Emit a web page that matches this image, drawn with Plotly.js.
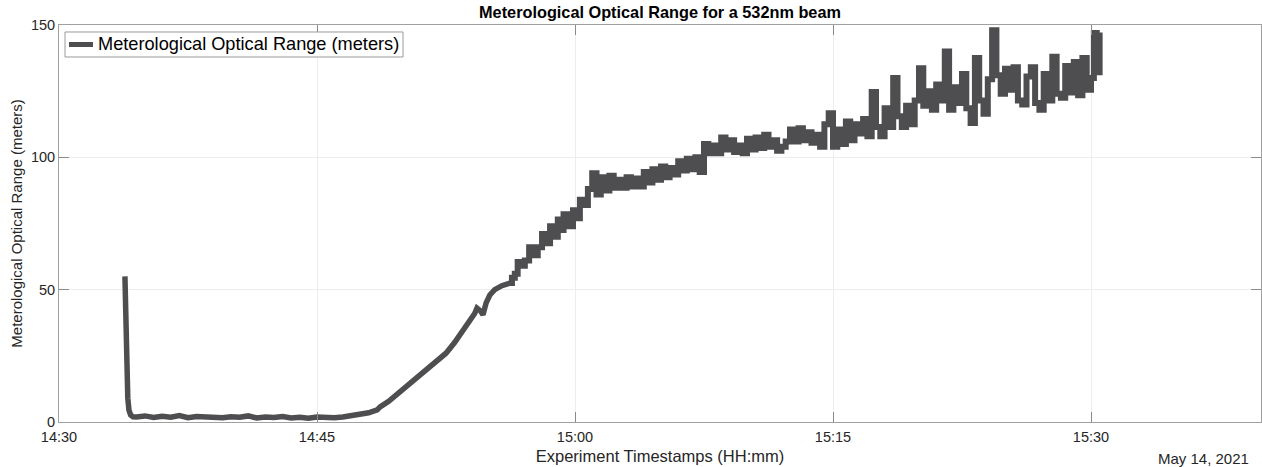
<!DOCTYPE html>
<html>
<head>
<meta charset="utf-8">
<script src="https://cdn.plot.ly/plotly-3.0.1.min.js"></script>
<style>html,body{margin:0;padding:0;background:#fff;}#chart{width:1262px;height:467px;}</style>
</head>
<body>
<div id="chart"></div>
<script>
const dateStr = '2021-05-14';
const seriesName = 'Meterological Optical Range (meters)';
const chartTitle = 'Meterological Optical Range for a 532nm beam';
const xTitle = 'Experiment Timestamps (HH:mm)';
const yTitle = 'Meterological Optical Range (meters)';
const dateLabel = 'May 14, 2021';
const yTickVals = [0, 50, 100, 150];

// initial drop
const timesDrop = ['14:33:50','14:33:52','14:33:54','14:33:57','14:34:00','14:34:04','14:34:10','14:34:18'];
const valuesDrop = [55, 42, 30, 17, 9, 4.5, 2.6, 2.0];

// flat region
const timesFlat = ['14:34:30','14:35:00','14:35:30','14:36:00','14:36:30','14:37:00','14:37:30','14:38:00','14:38:30','14:39:00','14:39:30','14:40:00','14:40:30','14:41:00','14:41:30','14:42:00','14:42:30','14:43:00','14:43:30','14:44:00','14:44:30','14:45:00','14:45:30'];
const valuesFlat = [1.9, 2.3, 1.7, 2.2, 1.8, 2.4, 1.6, 2.1, 1.9, 2.2, 1.6, 2.0, 1.8, 2.3, 1.5, 1.9, 1.7, 2.1, 1.5, 1.8, 1.4, 1.9, 1.6];

// rise
const timesRise = ['14:46:00','14:46:30','14:47:00','14:47:30','14:48:00','14:48:30','14:48:40','14:49:10','14:49:40','14:50:10','14:50:35','14:51:00','14:51:30','14:52:00','14:52:30','14:53:00','14:53:30','14:53:54','14:54:10','14:54:18','14:54:30','14:54:39','14:54:50','14:55:03','14:55:20','14:55:45','14:56:13'];
const valuesRise = [1.6, 1.9, 2.3, 2.9, 3.5, 4.6, 5.7, 7.8, 10.5, 13, 15, 17.5, 20, 23, 26, 30, 34.5, 38.5, 41, 43, 42, 40.5, 45, 48, 50, 51.5, 52.5];

// jittery late rise and noisy plateau
const timesNoisy = [
'14:56:20','14:56:30','14:56:40','14:56:50','14:57:05','14:57:20','14:57:33','14:57:50','14:58:05','14:58:15','14:58:33','14:58:45',
'14:59:00','14:59:07','14:59:20','14:59:35','14:59:53','15:00:05','15:00:17','15:00:30','15:00:45',
'15:01:00','15:01:15','15:01:30','15:01:45','15:02:00','15:02:15','15:02:30','15:02:45',
'15:03:00','15:03:15','15:03:30','15:03:45','15:04:00','15:04:15','15:04:30','15:04:45',
'15:05:00','15:05:15','15:05:30','15:05:45','15:06:00','15:06:15','15:06:30','15:06:45',
'15:07:00','15:07:15','15:07:30','15:07:45','15:08:00','15:08:15','15:08:30','15:08:45',
'15:09:00','15:09:15','15:09:30','15:09:45','15:10:00','15:10:15','15:10:30','15:10:45',
'15:11:00','15:11:15','15:11:30','15:11:45','15:12:00','15:12:15','15:12:30','15:12:45',
'15:13:00','15:13:15','15:13:30','15:13:45','15:14:00','15:14:15','15:14:30','15:14:45',
'15:15:00','15:15:15','15:15:30','15:15:45','15:16:00','15:16:15','15:16:30','15:16:45',
'15:17:00','15:17:15','15:17:30','15:17:45','15:18:00','15:18:15','15:18:30','15:18:45',
'15:19:00','15:19:15','15:19:30','15:19:45','15:20:00','15:20:15','15:20:30','15:20:45',
'15:21:00','15:21:15','15:21:30','15:21:45','15:22:00','15:22:15','15:22:30','15:22:45',
'15:23:00','15:23:15','15:23:30','15:23:45','15:24:00','15:24:15','15:24:30','15:24:45',
'15:25:00','15:25:15','15:25:30','15:25:45','15:26:00','15:26:15','15:26:30','15:26:45',
'15:27:00','15:27:15','15:27:30','15:27:45','15:28:00','15:28:15','15:28:30','15:28:45',
'15:29:00','15:29:15','15:29:30','15:29:45','15:30:00','15:30:10','15:30:20','15:30:30'];
const valuesNoisy = [
54.5, 56, 60.5, 59, 61, 66, 63, 66, 71, 67.5, 74, 70,
76.5, 72.5, 78.5, 74, 80, 77, 84, 82, 88,
94, 86, 92.5, 87.5, 93, 88.5, 91.5, 88.5,
92.5, 89, 92, 89, 94.5, 90.5, 95.5, 91.5,
96.5, 92.5, 96, 93.5, 98.5, 95, 99.5, 95.5,
100, 94.5, 105, 101.5, 104.5, 101.5, 107.5, 103,
106.5, 102, 104.5, 101.5, 107, 103, 107.5, 103.5,
108.5, 104, 106.5, 102.5, 104, 106, 110.5, 106,
111, 106.5, 109.5, 105.5, 108.5, 104, 112.5, 116.7,
104, 110.5, 105, 113.5, 106.5, 112.5, 109, 114.5,
108, 124.7, 111.5, 108, 118.5, 111.5, 130, 115.5,
111.5, 119.5, 112.5, 121.5, 133.7, 119.5, 125, 118,
127.5, 121.5, 140, 118, 126.5, 120.5, 131.5, 118.5,
113, 137.5, 121.5, 116.5, 129.5, 148, 131, 124,
133.5, 125.5, 134, 121.5, 120, 130.5, 134, 120.5,
118, 131.5, 121.5, 138, 124, 122.5, 134.5, 124.5,
136, 123.5, 137.5, 125.5, 130, 147, 146, 131];

const withDate = t => dateStr + ' ' + t;
const timesSmooth = [].concat(timesDrop, timesFlat, timesRise).map(withDate);
const valuesSmooth = [].concat(valuesDrop, valuesFlat, valuesRise);
// the jittery part continues from the last smooth reading so the line is unbroken
const timesJitter = [timesRise[timesRise.length - 1]].concat(timesNoisy).map(withDate);
const valuesJitter = [valuesRise[valuesRise.length - 1]].concat(valuesNoisy);

const font = 'Liberation Sans, Arial, Helvetica, sans-serif';
const lineColor = '#4e4d50';
const textColor = '#262626';

const traceSmooth = {
  x: timesSmooth, y: valuesSmooth, type: 'scatter', mode: 'lines', name: seriesName,
  line: {color: lineColor, width: 5.5}, showlegend: false
};
const traceNoisy = {
  x: timesJitter, y: valuesJitter, type: 'scatter', mode: 'lines', name: seriesName,
  line: {color: lineColor, width: 6, shape: 'hv'}, showlegend: false
};

// legend box geometry (paper coords)
const lgX0 = 0.005, lgX1 = 0.2862, lgY0 = 0.9194, lgY1 = 0.9824, lgYm = 0.9509;

const layout = {
  width: 1262, height: 467,
  margin: {l: 59, r: 1, t: 25, b: 45},
  paper_bgcolor: '#fff', plot_bgcolor: '#fff',
  font: {family: font, size: 14, color: textColor},
  showlegend: false,
  title: {text: '<b>' + chartTitle + '</b>', font: {family: font, size: 16.3, color: '#000'}, x: 0.5, xref: 'paper', y: 0.974, yref: 'container', yanchor: 'middle'},
  xaxis: {
    type: 'date',
    range: [dateStr + ' 14:30:00', dateStr + ' 15:39:53'],
    tick0: dateStr + ' 14:30:00', dtick: 900000,
    tickformat: '%H:%M',
    showgrid: true, gridcolor: '#ededed', gridwidth: 1,
    showline: true, linecolor: '#a0a0a0', linewidth: 1, mirror: 'ticks',
    ticks: 'inside', ticklen: 10, tickcolor: '#8a8a8a',
    zeroline: false, ticklabelstandoff: 2,
    tickfont: {family: font, size: 14.5, color: textColor},
    title: {text: xTitle, font: {family: font, size: 16.5, color: textColor}, standoff: 6}
  },
  yaxis: {
    range: [0, 150], tickvals: yTickVals,
    showgrid: true, gridcolor: '#ededed', gridwidth: 1,
    showline: true, linecolor: '#a0a0a0', linewidth: 1, mirror: 'ticks',
    ticks: 'inside', ticklen: 10, tickcolor: '#8a8a8a',
    zeroline: false,
    tickfont: {family: font, size: 14.5, color: textColor},
    title: {text: yTitle, font: {family: font, size: 15, color: textColor}, standoff: 4}
  },
  shapes: [
    {type: 'rect', xref: 'paper', yref: 'paper', x0: lgX0, x1: lgX1, y0: lgY0, y1: lgY1,
     fillcolor: '#fff', line: {color: '#9a9a9a', width: 1}, layer: 'above'},
    {type: 'line', xref: 'paper', yref: 'paper', x0: 0.0083, x1: 0.0283, y0: lgYm, y1: lgYm,
     line: {color: lineColor, width: 5}, layer: 'above'}
  ],
  annotations: [
    {text: seriesName, xref: 'paper', yref: 'paper', x: 0.0308, y: lgYm,
     xanchor: 'left', yanchor: 'middle', showarrow: false,
     font: {family: font, size: 18.2, color: '#000'}},
    {text: dateLabel, xref: 'paper', yref: 'paper', x: 0.9915, y: 0, yshift: -36,
     xanchor: 'right', yanchor: 'middle', showarrow: false,
     font: {family: font, size: 15, color: textColor}}
  ]
};

Plotly.newPlot('chart', [traceSmooth, traceNoisy], layout, {displayModeBar: false, staticPlot: true});
</script>
</body>
</html>
